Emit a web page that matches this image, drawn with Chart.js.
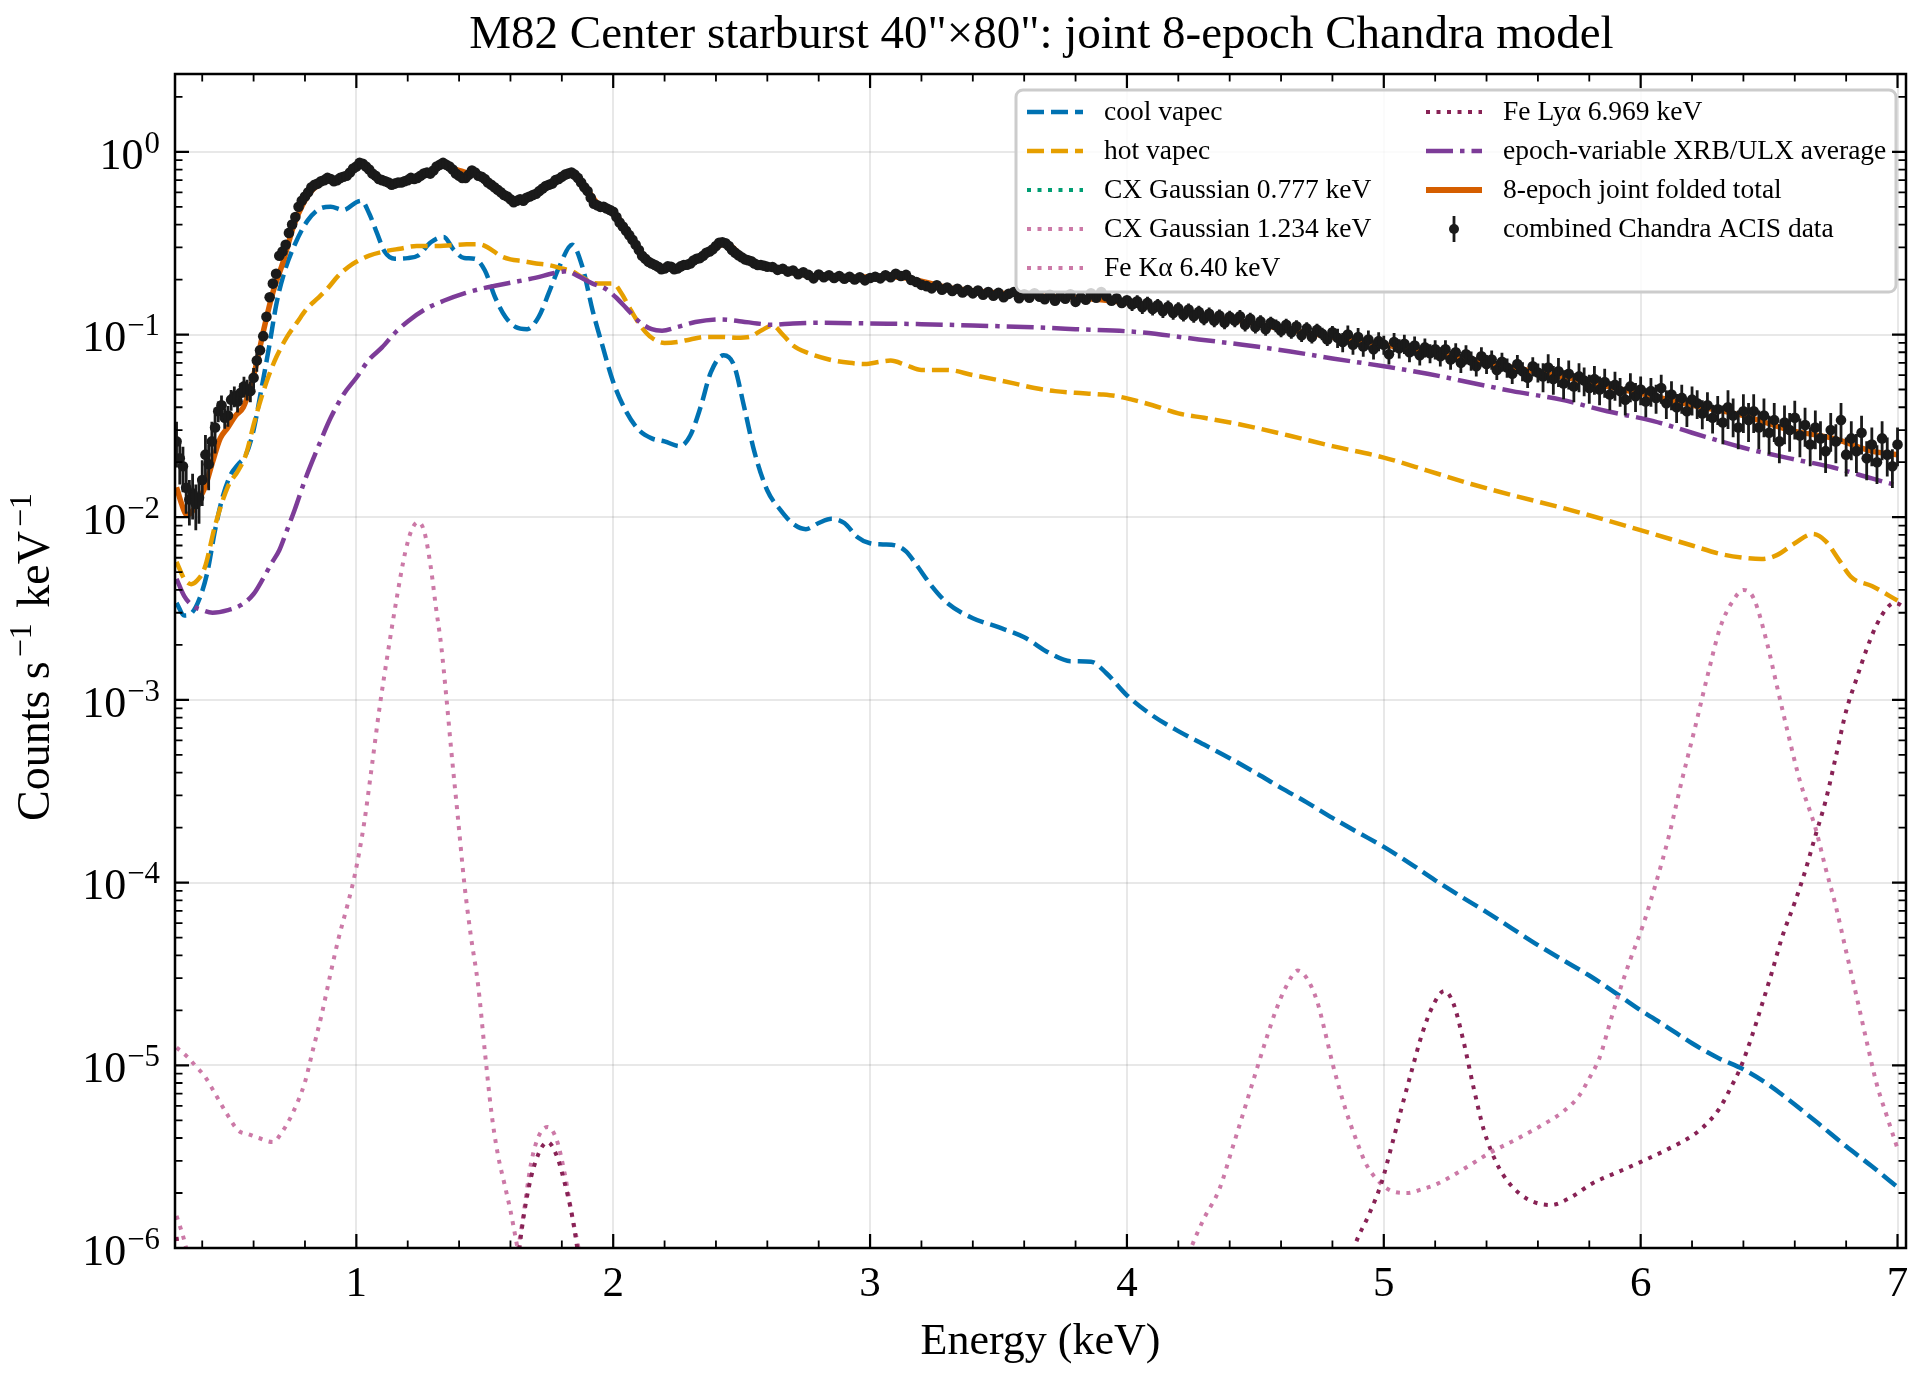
<!DOCTYPE html>
<html>
<head>
<meta charset="utf-8">
<title>M82 Center starburst - joint 8-epoch Chandra model</title>
<script src="https://cdn.jsdelivr.net/npm/chart.js@4.4.1/dist/chart.umd.min.js"></script>
<style>
  html, body { margin: 0; padding: 0; background: #fff; }
  #spec { display: block; }
</style>
</head>
<body>
<canvas id="spec" width="1927" height="1380"></canvas>
<script>
// ---- values (keV, counts s^-1 keV^-1) ----
const chartTitle = 'M82 Center starburst 40"\u00d780": joint 8-epoch Chandra model';
const xTitle = 'Energy (keV)';
const xTicks = [1, 2, 3, 4, 5, 6, 7];
const xTickLabels = ['1', '2', '3', '4', '5', '6', '7'];
const yTickExps = [-6, -5, -4, -3, -2, -1, 0];
const X_MIN = 0.294, X_MAX = 7.033;
const Y_MIN = 1e-6, Y_MAX = 2.667;

const legendLabels = [
  'cool vapec', 'hot vapec', 'CX Gaussian 0.777 keV', 'CX Gaussian 1.234 keV', 'Fe K\u03b1 6.40 keV',
  'Fe Ly\u03b1 6.969 keV', 'epoch-variable XRB/ULX average', '8-epoch joint folded total', 'combined Chandra ACIS data'
];

// combined Chandra ACIS data
const obsE = [
  0.300,0.325,0.350,0.375,0.400,0.425,0.450,0.475,0.500,0.525,0.550,0.575,0.600,0.625,0.650,0.675,0.700,0.725,0.750,0.775,
  0.800,0.825,0.850,0.875,0.900,0.925,0.950,0.975,1.000,1.025,1.050,1.075,1.100,1.125,1.150,1.175,1.200,1.225,1.250,1.275,
  1.300,1.325,1.350,1.375,1.400,1.425,1.450,1.475,1.500,1.525,1.550,1.575,1.600,1.625,1.650,1.675,1.700,1.725,1.750,1.775,
  1.800,1.825,1.850,1.875,1.900,1.925,1.950,1.975,2.000,2.025,2.050,2.075,2.100,2.125,2.150,2.175,2.200,2.225,2.250,2.275,
  2.300,2.325,2.350,2.375,2.400,2.425,2.450,2.475,2.500,2.525,2.550,2.575,2.600,
  0.3125,0.3375,0.3625,0.3875,0.4125,0.4375,0.4625,0.4875,0.5125,0.5375,0.5625,0.5875,0.6125,0.6375,0.6625,0.6875,0.7125,0.7375,0.7625,0.7875,
  0.8125,0.8375,0.8625,0.8875,0.9125,0.9375,0.9625,0.9875,1.0125,1.0375,1.0625,1.0875,1.1125,1.1375,1.1625,1.1875,1.2125,1.2375,1.2625,1.2875,
  1.3125,1.3375,1.3625,1.3875,1.4125,1.4375,1.4625,1.4875,1.5125,1.5375,1.5625,1.5875,1.6125,1.6375,1.6625,1.6875,1.7125,1.7375,1.7625,1.7875,
  1.8125,1.8375,1.8625,1.8875,1.9125,1.9375,1.9625,1.9875,2.0125,2.0375,2.0625,2.0875,2.1125,2.1375,2.1625,2.1875,2.2125,2.2375,2.2625,2.2875,
  2.3125,2.3375,2.3625,2.3875,2.4125,2.4375,2.4625,2.4875,2.5125,2.5375,2.5625,2.5875,
  2.62,2.64,2.66,2.68,2.70,2.72,2.74,2.76,2.78,2.80, 2.82,2.84,2.86,2.88,2.90,2.92,2.94,2.96,2.98,3.00,
  3.02,3.04,3.06,3.08,3.10,3.12,3.14,3.16,3.18,3.20, 3.22,3.24,3.26,3.28,3.30,3.32,3.34,3.36,3.38,3.40,
  3.42,3.44,3.46,3.48,3.50,3.52,3.54,3.56,3.58,3.60, 3.62,3.64,3.66,3.68,3.70,3.72,3.74,3.76,3.78,3.80,
  3.82,3.84,3.86,3.88,3.90,3.92,3.94,3.96,3.98,4.00, 4.02,4.04,4.06,4.08,4.10,4.12,4.14,4.16,4.18,4.20,
  4.22,4.24,4.26,4.28,4.30,4.32,4.34,4.36,4.38,4.40, 4.42,4.44,4.46,4.48,4.50,4.52,4.54,4.56,4.58,4.60,
  4.62,4.64,4.66,4.68,4.70,4.72,4.74,4.76,4.78,4.80, 4.82,4.84,4.86,4.88,4.90,4.92,4.94,4.96,4.98,5.00,
  5.02,5.04,5.06,5.08,5.10,5.12,5.14,5.16,5.18,5.20, 5.22,5.24,5.26,5.28,5.30,5.32,5.34,5.36,5.38,5.40,
  5.42,5.44,5.46,5.48,5.50,5.52,5.54,5.56,5.58,5.60, 5.62,5.64,5.66,5.68,5.70,5.72,5.74,5.76,5.78,5.80,
  5.82,5.84,5.86,5.88,5.90,5.92,5.94,5.96,5.98,6.00, 6.02,6.04,6.06,6.08,6.10,6.12,6.14,6.16,6.18,6.20,
  6.22,6.24,6.26,6.28,6.30,6.32,6.34,6.36,6.38,6.40, 6.42,6.44,6.46,6.48,6.50,6.52,6.54,6.56,6.58,6.60,
  6.62,6.64,6.66,6.68,6.70,6.72,6.74,6.76,6.78,6.80, 6.82,6.84,6.86,6.88,6.90,6.92,6.94,6.96,6.98,7.00
];
const obsRate = [
  0.026,0.019,0.0125,0.0118,0.016,0.0195,0.031,0.041,0.036,0.046,0.048,0.050,0.058,0.082,0.125,0.19,0.27,0.31,0.40,0.50,
  0.57,0.64,0.67,0.70,0.71,0.70,0.73,0.77,0.83,0.86,0.80,0.74,0.70,0.68,0.67,0.68,0.70,0.71,0.74,0.77,
  0.79,0.85,0.85,0.80,0.74,0.72,0.79,0.74,0.71,0.66,0.62,0.58,0.55,0.54,0.54,0.57,0.59,0.63,0.66,0.70,
  0.73,0.76,0.75,0.68,0.61,0.52,0.50,0.49,0.47,0.41,0.37,0.33,0.29,0.26,0.245,0.235,0.23,0.235,0.23,0.24,
  0.245,0.26,0.27,0.285,0.305,0.32,0.305,0.28,0.265,0.255,0.245,0.24,0.235,
  0.021,0.0145,0.0135,0.0128,0.022,0.026,0.038,0.035,0.044,0.043,0.052,0.049,0.072,0.098,0.160,0.215,0.285,0.36,0.44,0.54,
  0.60,0.66,0.69,0.72,0.69,0.72,0.74,0.81,0.87,0.83,0.76,0.71,0.69,0.66,0.68,0.69,0.72,0.72,0.76,0.76,
  0.83,0.87,0.83,0.76,0.72,0.75,0.77,0.73,0.68,0.64,0.60,0.57,0.53,0.55,0.56,0.58,0.61,0.65,0.67,0.71,
  0.75,0.77,0.72,0.64,0.56,0.51,0.50,0.48,0.44,0.39,0.35,0.31,0.27,0.25,0.24,0.228,0.236,0.228,0.236,0.241,
  0.254,0.262,0.28,0.293,0.318,0.316,0.29,0.272,0.258,0.252,0.24,0.238,
  0.234,0.226,0.229,0.221,0.224,0.214,0.219,0.212,0.203,0.213, 0.206,0.211,0.204,0.209,0.202,0.207,0.200,0.206,0.198,0.204,
  0.207,0.203,0.211,0.206,0.215,0.209,0.212,0.199,0.194,0.187, 0.184,0.179,0.186,0.176,0.181,0.173,0.178,0.170,0.175,0.168,
  0.174,0.165,0.171,0.163,0.169,0.160,0.167,0.171,0.158,0.166, 0.159,0.168,0.161,0.156,0.165,0.153,0.162,0.157,0.166,0.151,
  0.160,0.155,0.168,0.159,0.171,0.162,0.153,0.158,0.149,0.154, 0.146,0.152,0.141,0.149,0.138,0.145,0.134,0.142,0.131,0.139,
  0.128,0.137,0.126,0.133,0.122,0.130,0.119,0.127,0.116,0.125, 0.119,0.126,0.113,0.122,0.110,0.118,0.107,0.116,0.112,0.105,
  0.113,0.103,0.111,0.099,0.108,0.097,0.106,0.101,0.094,0.103, 0.096,0.091,0.100,0.088,0.097,0.086,0.094,0.083,0.092,0.088,
  0.078,0.091,0.084,0.089,0.080,0.087,0.077,0.085,0.079,0.083, 0.076,0.083,0.073,0.080,0.070,0.078,0.072,0.067,0.076,0.069,
  0.073,0.064,0.071,0.066,0.061,0.069,0.063,0.058,0.067,0.062, 0.059,0.066,0.057,0.063,0.054,0.061,0.052,0.059,0.056,0.051,
  0.057,0.050,0.055,0.047,0.053,0.049,0.044,0.052,0.046,0.050, 0.043,0.049,0.045,0.051,0.042,0.047,0.040,0.045,0.038,0.044,
  0.042,0.037,0.041,0.035,0.039,0.033,0.040,0.036,0.031,0.038, 0.034,0.038,0.031,0.036,0.029,0.034,0.026,0.033,0.030,0.035,
  0.028,0.032,0.025,0.031,0.027,0.023,0.030,0.026,0.034,0.022, 0.027,0.023,0.029,0.021,0.025,0.020,0.027,0.022,0.019,0.025
];
// relative 1-sigma error per energy band (upper band edge, fraction)
const errEdge = [0.45, 0.62, 2.6, 4.0, 4.8, 5.6, 6.3, 7.1];
const errFrac = [0.28, 0.13, 0.04, 0.05, 0.08, 0.12, 0.18, 0.24];

// 8-epoch joint folded total
const totalE = [0.30,0.32,0.34,0.36,0.38,0.41,0.44,0.47,0.50,0.53,0.56,0.585,0.61,0.64,0.675,0.715,0.755,0.79,0.83,0.87,
  0.92,0.975,1.015,1.06,1.10,1.16,1.235,1.29,1.34,1.39,1.44,1.49,1.55,1.62,1.66,1.71,1.77,1.82,1.86,1.90,
  1.94,2.00,2.06,2.11,2.16,2.22,2.30,2.37,2.44,2.50,2.56,2.64,2.75,2.90,3.05,3.15,3.30,3.50,3.70,3.90,
  4.10,4.28,4.45,4.63,4.80,5.00,5.17,5.34,5.50,5.69,5.87,6.05,6.20,6.40,6.58,6.75,6.90,7.00];
const totalY = [0.0146,0.0118,0.0103,0.0107,0.0121,0.0145,0.020,0.027,0.031,0.036,0.040,0.050,0.068,0.107,0.17,0.25,0.39,0.51,0.62,0.68,
  0.71,0.77,0.84,0.78,0.71,0.67,0.71,0.78,0.84,0.80,0.76,0.73,0.63,0.54,0.55,0.60,0.69,0.75,0.72,0.62,
  0.52,0.47,0.36,0.28,0.245,0.232,0.245,0.28,0.315,0.27,0.245,0.228,0.212,0.205,0.208,0.203,0.181,0.169,0.162,0.155,
  0.143,0.128,0.118,0.106,0.097,0.088,0.080,0.073,0.066,0.059,0.052,0.046,0.041,0.036,0.030,0.027,0.023,0.022];

// cool vapec
const coolE = [0.30,0.33,0.36,0.39,0.42,0.45,0.48,0.51,0.54,0.57,0.60,0.63,0.66,0.69,0.72,0.76,0.81,0.86,0.90,0.95,
  1.00,1.02,1.05,1.08,1.11,1.15,1.20,1.24,1.29,1.34,1.38,1.42,1.46,1.50,1.54,1.58,1.62,1.665,1.71,1.75,
  1.79,1.84,1.88,1.92,1.96,2.00,2.05,2.10,2.15,2.20,2.26,2.30,2.34,2.38,2.43,2.47,2.51,2.55,2.60,2.65,
  2.70,2.75,2.80,2.85,2.90,2.95,3.00,3.05,3.10,3.14,3.18,3.24,3.30,3.40,3.50,3.60,3.70,3.78,3.86,3.92,
  4.00,4.10,4.20,4.30,4.40,4.50,4.60,4.70,4.80,4.90,5.00,5.10,5.20,5.30,5.40,5.50,5.60,5.70,5.80,5.90,
  6.00,6.10,6.20,6.30,6.40,6.50,6.60,6.70,6.80,6.90,7.00];
const coolY = [0.0034,0.0029,0.0030,0.0036,0.0050,0.0085,0.013,0.017,0.0195,0.022,0.030,0.050,0.085,0.15,0.22,0.31,0.42,0.49,0.50,0.48,
  0.53,0.54,0.46,0.36,0.285,0.26,0.262,0.27,0.32,0.342,0.29,0.262,0.26,0.225,0.16,0.125,0.11,0.107,0.125,0.17,
  0.235,0.31,0.235,0.135,0.085,0.055,0.038,0.030,0.027,0.026,0.0245,0.028,0.040,0.062,0.077,0.068,0.040,0.0227,0.014,0.011,
  0.0092,0.0086,0.0093,0.0098,0.0093,0.0078,0.0072,0.0071,0.0070,0.0065,0.0055,0.0042,0.0034,0.0028,0.0025,0.0022,0.0018,0.00163,0.00162,0.0014,
  0.00106,0.00082,0.000675,0.00057,0.00048,0.00040,0.00033,0.000275,0.000226,0.000188,0.000157,0.000128,0.000103,0.000084,0.000069,0.000056,0.0000455,0.0000375,0.000031,0.000025,
  0.000020,0.0000163,0.0000132,0.000011,0.0000095,0.0000078,0.0000061,0.0000047,0.0000036,0.0000028,0.00000215];

// hot vapec
const hotE = [0.30,0.33,0.357,0.38,0.41,0.45,0.50,0.54,0.57,0.60,0.63,0.66,0.69,0.73,0.77,0.81,0.85,0.89,0.93,0.97,
  1.00,1.05,1.10,1.17,1.235,1.30,1.37,1.43,1.48,1.52,1.56,1.60,1.65,1.70,1.75,1.80,1.84,1.88,1.92,1.96,
  2.00,2.03,2.07,2.11,2.15,2.20,2.25,2.30,2.36,2.42,2.48,2.53,2.58,2.62,2.66,2.70,2.76,2.84,2.92,2.98,
  3.04,3.08,3.14,3.20,3.30,3.40,3.48,3.56,3.64,3.72,3.80,3.90,3.96,4.02,4.10,4.20,4.30,4.45,4.63,4.80,
  5.00,5.17,5.34,5.50,5.69,5.87,6.05,6.20,6.31,6.40,6.47,6.53,6.60,6.67,6.72,6.77,6.82,6.90,7.00];
const hotY = [0.0057,0.0046,0.0043,0.0045,0.0053,0.0090,0.0147,0.018,0.022,0.032,0.045,0.060,0.076,0.097,0.117,0.14,0.158,0.18,0.21,0.235,
  0.25,0.27,0.283,0.295,0.305,0.305,0.308,0.312,0.312,0.295,0.27,0.258,0.252,0.245,0.24,0.23,0.222,0.205,0.192,0.19,
  0.19,0.17,0.135,0.11,0.096,0.09,0.091,0.094,0.097,0.097,0.096,0.097,0.106,0.112,0.10,0.087,0.079,0.073,0.070,0.069,
  0.071,0.072,0.068,0.064,0.064,0.060,0.057,0.054,0.051,0.049,0.048,0.047,0.046,0.044,0.041,0.037,0.035,0.032,0.028,0.0245,
  0.0212,0.018,0.0152,0.0132,0.0113,0.0096,0.0081,0.0070,0.0063,0.0060,0.0059,0.0062,0.0072,0.0081,0.0074,0.0059,0.0047,0.0042,0.0035];

// CX Gaussian 0.777 keV: stays below the plotted range everywhere
const cx1E = [];
const cx1Y = [];

// CX Gaussian 1.234 keV
const cx2E = [0.30,0.34,0.38,0.41,0.45,0.49,0.54,0.58,0.62,0.675,0.71,0.75,0.80,0.83,0.864,0.90,0.93,0.965,0.995,1.03,
  1.06,1.09,1.125,1.16,1.19,1.215,1.24,1.265,1.29,1.31,1.33,1.35,1.37,1.395,1.42,1.445,1.474,1.50,1.526,1.55,
  1.578,1.60,1.617,1.64,1.67];
const cx2Y = [1.25e-5,1.12e-5,9.7e-6,8.7e-6,7.0e-6,5.6e-6,4.4e-6,4.2e-6,4.0e-6,3.8e-6,4.3e-6,5.4e-6,8.1e-6,1.2e-5,1.87e-5,3.2e-5,4.9e-5,7.5e-5,1.12e-4,2.1e-4,
  4.3e-4,9.0e-4,1.9e-3,3.8e-3,6.4e-3,8.5e-3,9.4e-3,8.3e-3,5.3e-3,3.2e-3,2.0e-3,1.05e-3,5.2e-4,2.3e-4,1.0e-4,5.2e-5,2.75e-5,1.2e-5,5.5e-6,3.3e-6,
  2.2e-6,1.6e-6,1.2e-6,8e-7,5e-7];

// Fe K alpha 6.40 keV (null = below the plot)
const feKaE = [0.30,0.33,0.36,0.40,1.00,1.58,1.62,1.65,1.68,1.71,1.745,1.78,1.81,1.84,1.87,1.91,3.00,4.10,4.18,4.25,
  4.30,4.36,4.41,4.46,4.50,4.54,4.58,4.62,4.665,4.70,4.74,4.77,4.80,4.85,4.89,4.93,4.97,5.03,5.09,5.15,
  5.21,5.31,5.41,5.51,5.61,5.70,5.76,5.80,5.84,5.88,5.92,5.96,6.01,6.06,6.11,6.16,6.21,6.26,6.31,6.36,
  6.40,6.44,6.49,6.53,6.57,6.62,6.68,6.72,6.76,6.80,6.84,6.88,6.92,6.96,7.00];
const feKaY = [1.5e-6,1.1e-6,7e-7,3e-7,null,3e-7,8e-7,1.5e-6,2.9e-6,4.1e-6,4.6e-6,3.9e-6,2.6e-6,1.5e-6,9e-7,3e-7,null,2e-7,5e-7,1e-6,
  1.45e-6,2.1e-6,3.5e-6,5.9e-6,9e-6,1.36e-5,2e-5,2.7e-5,3.3e-5,3.0e-5,2.25e-5,1.55e-5,1.03e-5,5.8e-6,4e-6,2.9e-6,2.4e-6,2.05e-6,2.0e-6,2.1e-6,
  2.25e-6,2.7e-6,3.3e-6,3.9e-6,4.65e-6,5.6e-6,6.8e-6,8.5e-6,1.1e-5,1.7e-5,2.6e-5,3.8e-5,5.9e-5,1.0e-4,1.8e-4,3.6e-4,6.9e-4,1.35e-3,2.5e-3,3.5e-3,
  4.0e-3,3.6e-3,2.1e-3,1.2e-3,6.9e-4,3.6e-4,2.0e-4,1.2e-4,7.4e-5,4.2e-5,2.4e-5,1.35e-5,7.8e-6,5.2e-6,3.5e-6];

// Fe Ly alpha 6.969 keV
const feLyE = [0.30,0.315,0.33,1.00,1.60,1.635,1.67,1.71,1.745,1.78,1.81,1.84,1.86,1.89,1.92,3.00,4.80,4.885,4.94,4.99,
  5.03,5.07,5.11,5.15,5.19,5.235,5.27,5.31,5.35,5.39,5.44,5.49,5.56,5.65,5.73,5.81,5.91,6.01,6.11,6.21,
  6.27,6.31,6.35,6.39,6.43,6.47,6.51,6.55,6.60,6.64,6.68,6.72,6.76,6.80,6.84,6.88,6.92,6.96,6.99,7.03];
const feLyY = [1.15e-6,8e-7,5e-7,null,3e-7,1e-6,2.1e-6,3.3e-6,3.8e-6,3.2e-6,2.3e-6,1.5e-6,1e-6,5e-7,2e-7,null,3e-7,1e-6,1.5e-6,2.25e-6,
  3.6e-6,5.9e-6,9.5e-6,1.5e-5,2.1e-5,2.55e-5,2.2e-5,1.36e-5,7.5e-6,4.4e-6,2.9e-6,2.25e-6,1.85e-6,1.72e-6,1.9e-6,2.25e-6,2.6e-6,3.0e-6,3.5e-6,4.2e-6,
  5.0e-6,5.9e-6,7.5e-6,9.8e-6,1.4e-5,2.1e-5,3.2e-5,5.0e-5,7.8e-5,1.15e-4,1.8e-4,2.8e-4,4.9e-4,8.7e-4,1.3e-3,1.9e-3,2.6e-3,3.2e-3,3.4e-3,3.2e-3];

// epoch-variable XRB/ULX average
const xrbE = [0.30,0.33,0.36,0.40,0.44,0.50,0.55,0.60,0.64,0.67,0.70,0.73,0.76,0.80,0.85,0.90,0.95,1.00,1.05,1.10,
  1.15,1.20,1.27,1.34,1.42,1.50,1.60,1.70,1.77,1.82,1.86,1.92,1.97,2.01,2.05,2.10,2.15,2.19,2.25,2.32,
  2.42,2.50,2.56,2.62,2.70,2.80,3.00,3.20,3.40,3.60,3.80,4.05,4.28,4.45,4.63,4.80,5.00,5.17,5.34,5.50,
  5.69,5.87,6.05,6.20,6.40,6.58,6.75,6.90,7.00];
const xrbY = [0.0046,0.0037,0.0033,0.0031,0.0030,0.0031,0.0033,0.0038,0.0047,0.0056,0.0066,0.0085,0.011,0.016,0.024,0.035,0.047,0.058,0.073,0.085,
  0.102,0.118,0.138,0.153,0.168,0.18,0.192,0.205,0.217,0.222,0.21,0.19,0.178,0.16,0.14,0.118,0.107,0.105,0.11,0.117,
  0.121,0.118,0.115,0.113,0.115,0.116,0.115,0.114,0.112,0.110,0.107,0.103,0.094,0.088,0.081,0.074,0.067,0.061,0.0545,0.049,
  0.044,0.038,0.0336,0.029,0.024,0.021,0.0187,0.0163,0.0149];

// ---- styling ----
const SERIF = '"Liberation Serif", "Times New Roman", Times, serif';
const COLORS = {
  cool: '#0072B2', hot: '#E69F00', cx1: '#009E73', cx2: '#CC79A7', feKa: '#CC79A7',
  feLy: '#882255', xrb: '#7D3C98', total: '#D55E00', data: '#1a1a1a'
};
const DASHED = [17, 7];
const DOTTED = [4, 6.5];
const DASHDOT = [27, 7, 4.5, 7];

function series(xs, ys) {
  return xs.map((x, i) => ({ x: x, y: ys[i] }));
}

function curve(label, xs, ys, color, dash, width) {
  return {
    label: label,
    data: series(xs, ys),
    borderColor: color,
    backgroundColor: color,
    borderDash: dash,
    borderWidth: width,
    borderCapStyle: 'butt',
    pointRadius: 0,
    fill: false,
    spanGaps: false,
    cubicInterpolationMode: 'monotone'
  };
}

function relErr(e) {
  for (let i = 0; i < errEdge.length; i++) {
    if (e <= errEdge[i]) return errFrac[i];
  }
  return errFrac[errFrac.length - 1];
}

// first dataset is drawn on top
const datasets = [
  {
    label: legendLabels[8],
    data: series(obsE, obsRate),
    showLine: false,
    pointRadius: 5.3,
    pointBorderWidth: 0,
    pointBackgroundColor: COLORS.data,
    borderColor: COLORS.data
  },
  curve(legendLabels[7], totalE, totalY, COLORS.total, [], 5.5),
  curve(legendLabels[6], xrbE, xrbY, COLORS.xrb, DASHDOT, 4.5),
  curve(legendLabels[5], feLyE, feLyY, COLORS.feLy, DOTTED, 4),
  curve(legendLabels[4], feKaE, feKaY, COLORS.feKa, DOTTED, 4),
  curve(legendLabels[3], cx2E, cx2Y, COLORS.cx2, DOTTED, 4),
  curve(legendLabels[2], cx1E, cx1Y, COLORS.cx1, DOTTED, 4),
  curve(legendLabels[1], hotE, hotY, COLORS.hot, DASHED, 4.5),
  curve(legendLabels[0], coolE, coolY, COLORS.cool, DASHED, 4.5)
];

// legend handles, column-major like the original
const legendItems = [
  { color: COLORS.cool, dash: DASHED, width: 4.5 },
  { color: COLORS.hot, dash: DASHED, width: 4.5 },
  { color: COLORS.cx1, dash: DOTTED, width: 4 },
  { color: COLORS.cx2, dash: DOTTED, width: 4 },
  { color: COLORS.feKa, dash: DOTTED, width: 4 },
  { color: COLORS.feLy, dash: DOTTED, width: 4 },
  { color: COLORS.xrb, dash: DASHDOT, width: 4.5 },
  { color: COLORS.total, dash: [], width: 6 },
  { color: COLORS.data, errorbar: true }
];

// vertical error bars on the data markers
const errorBars = {
  id: 'errorBars',
  afterDatasetDraw(chart, args) {
    if (args.index !== 0) return;
    const { ctx, chartArea: a, scales: { x, y } } = chart;
    ctx.save();
    ctx.beginPath();
    ctx.rect(a.left, a.top, a.right - a.left, a.bottom - a.top);
    ctx.clip();
    ctx.strokeStyle = COLORS.data;
    ctx.lineWidth = 2.8;
    ctx.beginPath();
    obsE.forEach((e, i) => {
      const v = obsRate[i];
      const err = v * relErr(e);
      const px = x.getPixelForValue(e);
      ctx.moveTo(px, y.getPixelForValue(v + err));
      ctx.lineTo(px, y.getPixelForValue(v - err));
    });
    ctx.stroke();
    ctx.restore();
  }
};

function drawPow(ctx, exp, xRight, yMid, fs) {
  const sup = exp < 0 ? '\u2212' + (-exp) : String(exp);
  const sfs = fs * 0.7;
  ctx.font = fs + 'px ' + SERIF;
  const wb = ctx.measureText('10').width;
  ctx.font = sfs + 'px ' + SERIF;
  const ws = ctx.measureText(sup).width;
  const x0 = xRight - ws - wb - 1;
  const base = yMid + fs * 0.38;
  ctx.textAlign = 'left';
  ctx.textBaseline = 'alphabetic';
  ctx.font = fs + 'px ' + SERIF;
  ctx.fillText('10', x0, base);
  ctx.font = sfs + 'px ' + SERIF;
  ctx.fillText(sup, x0 + wb + 1, base - fs * 0.36);
}

// spines, inward ticks on all sides, labels and title
const frame = {
  id: 'frame',
  afterDraw(chart) {
    const { ctx, chartArea: a, scales: { x, y } } = chart;
    ctx.save();
    ctx.setLineDash([]);
    ctx.strokeStyle = '#000';
    ctx.fillStyle = '#000';

    const xt = (v, len) => {
      const p = x.getPixelForValue(v);
      ctx.moveTo(p, a.bottom); ctx.lineTo(p, a.bottom - len);
      ctx.moveTo(p, a.top); ctx.lineTo(p, a.top + len);
    };
    const yt = (v, len) => {
      const p = y.getPixelForValue(v);
      ctx.moveTo(a.left, p); ctx.lineTo(a.left + len, p);
      ctx.moveTo(a.right, p); ctx.lineTo(a.right - len, p);
    };

    ctx.lineWidth = 1.8;
    ctx.beginPath();
    for (let k = 2; k <= 35; k++) {
      if (k % 5 !== 0) xt(k * 0.2, 7.5);
    }
    for (let d = -6; d <= 0; d++) {
      for (let m = 2; m <= 9; m++) {
        const v = m * Math.pow(10, d);
        if (v < Y_MAX) yt(v, 7.5);
      }
    }
    ctx.stroke();

    ctx.lineWidth = 2.2;
    ctx.beginPath();
    xTicks.forEach(v => xt(v, 14));
    yTickExps.forEach(e => yt(Math.pow(10, e), 14));
    ctx.stroke();

    ctx.lineWidth = 2.5;
    ctx.strokeRect(a.left, a.top, a.right - a.left, a.bottom - a.top);

    // x tick labels
    ctx.font = '43px ' + SERIF;
    ctx.textAlign = 'center';
    ctx.textBaseline = 'alphabetic';
    xTicks.forEach((v, i) => ctx.fillText(xTickLabels[i], x.getPixelForValue(v), a.bottom + 48));

    // y tick labels
    yTickExps.forEach(e => drawPow(ctx, e, a.left - 15, y.getPixelForValue(Math.pow(10, e)), 44));

    // x axis title
    ctx.font = '44px ' + SERIF;
    ctx.textAlign = 'center';
    ctx.fillText(xTitle, (a.left + a.right) / 2, a.bottom + 106);

    // y axis title with superscripts, rotated
    const parts = [
      { t: 'Counts s', sup: false }, { t: '\u22121', sup: true },
      { t: ' keV', sup: false }, { t: '\u22121', sup: true }
    ];
    const fs = 46, sfs = 32;
    let total = 0;
    parts.forEach(p => {
      ctx.font = (p.sup ? sfs : fs) + 'px ' + SERIF;
      p.w = ctx.measureText(p.t).width + (p.sup ? 8 : 0);
      total += p.w;
    });
    ctx.save();
    ctx.translate(49, (a.top + a.bottom) / 2 - 6);
    ctx.rotate(-Math.PI / 2);
    ctx.textAlign = 'left';
    let cx = -total / 2;
    parts.forEach(p => {
      ctx.font = (p.sup ? sfs : fs) + 'px ' + SERIF;
      ctx.fillText(p.t, cx + (p.sup ? 4 : 0), p.sup ? -18 : 0);
      cx += p.w;
    });
    ctx.restore();

    // title
    ctx.font = '47px ' + SERIF;
    ctx.textAlign = 'center';
    ctx.fillText(chartTitle, (a.left + a.right) / 2 + 1, 48);
    ctx.restore();
  }
};

// two-column legend box in the upper right, drawn over the data
const legendBox = {
  id: 'legendBox',
  afterDatasetsDraw(chart) {
    const { ctx, chartArea: a } = chart;
    const w = 880, h = 202, r = 7;
    const bx = a.right - 10 - w, by = a.top + 16;
    ctx.save();
    ctx.setLineDash([]);
    ctx.beginPath();
    ctx.moveTo(bx + r, by);
    ctx.arcTo(bx + w, by, bx + w, by + h, r);
    ctx.arcTo(bx + w, by + h, bx, by + h, r);
    ctx.arcTo(bx, by + h, bx, by, r);
    ctx.arcTo(bx, by, bx + w, by, r);
    ctx.closePath();
    ctx.fillStyle = 'rgba(255,255,255,0.8)';
    ctx.fill();
    ctx.lineWidth = 3;
    ctx.strokeStyle = '#cccccc';
    ctx.stroke();

    ctx.font = '27.5px ' + SERIF;
    ctx.textAlign = 'left';
    ctx.textBaseline = 'middle';
    legendItems.forEach((it, i) => {
      const col = i < 5 ? 0 : 1;
      const row = i < 5 ? i : i - 5;
      const x0 = bx + 11 + col * 399;
      const cy = by + 22 + row * 39;
      if (it.errorbar) {
        ctx.setLineDash([]);
        ctx.strokeStyle = it.color;
        ctx.lineWidth = 2.8;
        ctx.beginPath();
        ctx.moveTo(x0 + 28, cy - 13);
        ctx.lineTo(x0 + 28, cy + 13);
        ctx.stroke();
        ctx.fillStyle = it.color;
        ctx.beginPath();
        ctx.arc(x0 + 28, cy, 5, 0, Math.PI * 2);
        ctx.fill();
      } else {
        ctx.setLineDash(it.dash);
        ctx.strokeStyle = it.color;
        ctx.lineWidth = it.width;
        ctx.lineCap = 'butt';
        ctx.beginPath();
        ctx.moveTo(x0, cy);
        ctx.lineTo(x0 + 56, cy);
        ctx.stroke();
      }
      ctx.setLineDash([]);
      ctx.fillStyle = '#000';
      ctx.fillText(legendLabels[i], x0 + 77, cy + 1);
    });
    ctx.restore();
  }
};

const chart = new Chart(document.getElementById('spec').getContext('2d'), {
  type: 'line',
  data: { datasets: datasets },
  options: {
    responsive: false,
    animation: false,
    devicePixelRatio: 1,
    layout: { padding: { left: 175, right: 21, top: 74, bottom: 132 } },
    plugins: {
      legend: { display: false },
      title: { display: false },
      tooltip: { enabled: false }
    },
    scales: {
      x: {
        type: 'linear',
        min: X_MIN,
        max: X_MAX,
        ticks: { display: false },
        border: { display: false },
        grid: { color: 'rgba(0,0,0,0.09)', lineWidth: 2, drawTicks: false },
        afterBuildTicks: s => { s.ticks = xTicks.map(v => ({ value: v })); }
      },
      y: {
        type: 'logarithmic',
        min: Y_MIN,
        max: Y_MAX,
        ticks: { display: false },
        border: { display: false },
        grid: { color: 'rgba(0,0,0,0.09)', lineWidth: 2, drawTicks: false },
        afterBuildTicks: s => { s.ticks = yTickExps.map(e => ({ value: Math.pow(10, e) })); }
      }
    }
  },
  plugins: [errorBars, legendBox, frame]
});
</script>
</body>
</html>
